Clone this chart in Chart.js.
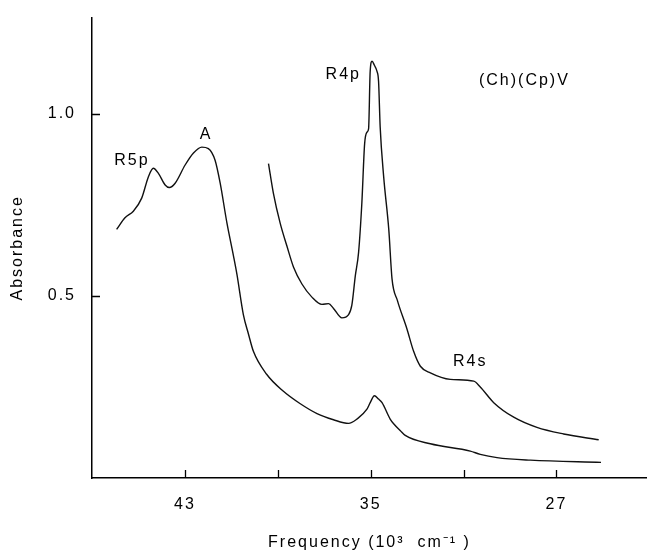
<!DOCTYPE html>
<html>
<head>
<meta charset="utf-8">
<script src="https://cdn.jsdelivr.net/npm/chart.js@4/dist/chart.umd.min.js"></script>
<style>
  html, body { margin: 0; padding: 0; background: #fff; }
  canvas { display: block; }
</style>
</head>
<body>
<canvas id="spectrum" width="647" height="552"></canvas>
<script>
// lower trace (whole range), frequency in 10^3 cm-1
var freqLower = [45.94, 45.58, 45.22, 44.86, 44.57, 44.36, 44.14, 43.85, 43.67, 43.42,
  42.99, 42.63, 42.27, 41.99, 41.70, 41.48, 41.19, 40.91, 40.76, 40.48, 40.26, 40.05,
  39.48, 38.77, 38.03, 37.31, 36.60, 35.95, 35.59, 35.16, 35.02, 34.84, 34.66, 34.51,
  34.16, 34.01, 33.72, 33.51, 32.43, 30.71, 30.28, 29.56, 28.12, 25.08];
var absLower = [0.683, 0.715, 0.733, 0.769, 0.828, 0.851, 0.837, 0.805, 0.798, 0.810,
  0.860, 0.893, 0.909, 0.905, 0.873, 0.810, 0.701, 0.611, 0.560, 0.448, 0.395, 0.348,
  0.285, 0.239, 0.204, 0.177, 0.160, 0.150, 0.162, 0.189, 0.207, 0.226, 0.217, 0.207,
  0.162, 0.149, 0.130, 0.117, 0.094, 0.074, 0.065, 0.056, 0.049, 0.043];

// upper trace (from ~39.4)
var freqUpper = [39.40, 39.19, 38.90, 38.61, 38.32, 37.96, 37.53, 37.10, 36.81, 36.60,
  36.24, 35.95, 35.81, 35.66, 35.52, 35.38, 35.26, 35.16, 35.09, 35.02, 34.94, 34.84,
  34.73, 34.66, 34.59, 34.44, 34.22, 34.08, 33.85, 33.44, 33.15, 32.86, 32.43, 31.57,
  30.56, 30.28, 29.70, 28.84, 27.84, 26.69, 25.18];
var absUpper = [0.864, 0.783, 0.701, 0.638, 0.579, 0.533, 0.497, 0.477, 0.479, 0.466,
  0.440, 0.449, 0.475, 0.556, 0.620, 0.755, 0.918, 0.950, 0.959, 1.118, 1.145, 1.134,
  1.118, 1.090, 0.964, 0.828, 0.683, 0.547, 0.488, 0.410, 0.348, 0.307, 0.289, 0.271,
  0.266, 0.250, 0.207, 0.167, 0.139, 0.121, 0.105];

var xTicks = [43, 39, 35, 31, 27];
var xLabelled = [43, 35, 27];
var yTicks = [0.5, 1.0];

// band labels, anchored in data units
var notes = [
  { text: 'R5p', x: 45.28, y: 0.872 },
  { text: 'A', x: 42.09, y: 0.943 },
  { text: 'R4p', x: 36.18, y: 1.109 },
  { text: '(Ch)(Cp)V', x: 28.38, y: 1.092 },
  { text: 'R4s', x: 30.71, y: 0.321 }
];

function toPoints(xs, ys) {
  return xs.map(function (x, i) { return { x: x, y: ys[i] }; });
}

var fontFamily = 'Arial, "Liberation Sans", Helvetica, sans-serif';

var decorPlugin = {
  id: 'decor',
  beforeDraw: function (chart) {
    chart.ctx.letterSpacing = '2px';
  },
  afterDraw: function (chart) {
    var ctx = chart.ctx;
    var xs = chart.scales.x, ys = chart.scales.y;
    var area = chart.chartArea;
    ctx.save();
    ctx.strokeStyle = '#000';
    ctx.lineWidth = 1.3;
    ctx.beginPath();
    xTicks.forEach(function (v) {
      var px = Math.round(xs.getPixelForValue(v)) + 0.5;
      ctx.moveTo(px, area.bottom);
      ctx.lineTo(px, area.bottom - 8);
    });
    yTicks.forEach(function (v) {
      var py = Math.round(ys.getPixelForValue(v)) + 0.5;
      ctx.moveTo(area.left, py);
      ctx.lineTo(area.left + 8, py);
    });
    ctx.stroke();

    ctx.fillStyle = '#000';
    ctx.font = '16px ' + fontFamily;
    ctx.letterSpacing = '2px';
    ctx.textAlign = 'center';
    ctx.textBaseline = 'middle';
    notes.forEach(function (n) {
      ctx.fillText(n.text, xs.getPixelForValue(n.x), ys.getPixelForValue(n.y));
    });
    ctx.restore();
  }
};

var ctx = document.getElementById('spectrum').getContext('2d');
var chart = new Chart(ctx, {
  type: 'scatter',
  data: {
    datasets: [
      {
        label: 'lower',
        data: toPoints(freqLower, absLower),
        showLine: true,
        borderColor: '#111',
        borderWidth: 1.4,
        pointRadius: 0,
        cubicInterpolationMode: 'monotone'
      },
      {
        label: 'upper',
        data: toPoints(freqUpper, absUpper),
        showLine: true,
        borderColor: '#111',
        borderWidth: 1.4,
        pointRadius: 0,
        cubicInterpolationMode: 'monotone'
      }
    ]
  },
  options: {
    responsive: false,
    animation: false,
    devicePixelRatio: 1,
    layout: { padding: { top: 14, right: 0, left: 0, bottom: 0 } },
    plugins: {
      legend: { display: false },
      tooltip: { enabled: false }
    },
    scales: {
      x: {
        type: 'linear',
        reverse: true,
        min: 23.1,
        max: 47,
        afterFit: function (s) { s.height = 74; },
        afterBuildTicks: function (s) {
          s.ticks = xTicks.map(function (v) { return { value: v }; });
        },
        grid: { display: false },
        border: { display: true, color: '#000', width: 1.5 },
        ticks: {
          color: '#000',
          padding: 9,
          maxRotation: 0,
          autoSkip: false,
          font: { family: fontFamily, size: 16 },
          callback: function (v) { return xLabelled.indexOf(v) >= 0 ? String(v) : ''; }
        },
        title: {
          display: true,
          text: 'Frequency (10³  cm⁻¹ )',
          color: '#000',
          font: { family: fontFamily, size: 16 },
          padding: { top: 0, bottom: 0 }
        }
      },
      y: {
        type: 'linear',
        min: 0,
        max: 1.265,
        afterFit: function (s) { s.width = 92; },
        afterBuildTicks: function (s) {
          s.ticks = yTicks.map(function (v) { return { value: v }; });
        },
        grid: { display: false },
        border: { display: true, color: '#000', width: 1.5 },
        ticks: {
          color: '#000',
          padding: 8,
          font: { family: fontFamily, size: 16 },
          callback: function (v) { return v.toFixed(1); }
        },
        title: {
          display: true,
          text: 'Absorbance',
          color: '#000',
          font: { family: fontFamily, size: 16 },
          padding: { top: 8, bottom: 0 }
        }
      }
    }
  },
  plugins: [decorPlugin]
});
</script>
</body>
</html>
